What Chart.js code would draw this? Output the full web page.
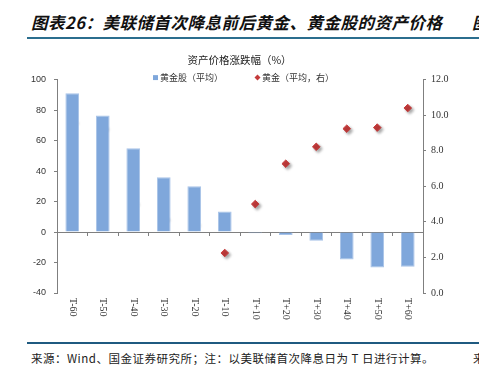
<!DOCTYPE html>
<html>
<head>
<meta charset="utf-8">
<script src="https://cdn.jsdelivr.net/npm/chart.js@4/dist/chart.umd.min.js"></script>
<style>
  html, body { margin: 0; padding: 0; background: #fff; }
  body { width: 479px; height: 371px; position: relative; overflow: hidden; font-family: "Noto Sans CJK SC", sans-serif; }
  .head { position: absolute; left: 31px; top: 10px; font-size: 16.5px; font-weight: bold; font-style: italic; color: #111; white-space: nowrap; letter-spacing: 0.5px; }
  .head-cut { position: absolute; left: 472px; top: 10px; font-size: 16.5px; font-weight: bold; font-style: italic; color: #111; }
  .rule-top { position: absolute; left: 27px; right: 0; top: 37px; height: 2px; background: #2b6e8e; }
  .rule-bot { position: absolute; left: 27px; right: 0; top: 342px; height: 2px; background: #1f5a80; }
  .foot { position: absolute; left: 31px; top: 350px; font-size: 11.5px; color: #222; white-space: nowrap; letter-spacing: 0.5px; }
  .foot-cut { position: absolute; left: 473px; top: 350px; font-size: 11.5px; color: #222; }
  #wrap { position: absolute; left: 0; top: 45px; width: 479px; height: 290px; }
</style>
</head>
<body>
<div class="head">图表26：美联储首次降息前后黄金、黄金股的资产价格</div>
<div class="head-cut">图</div>
<div class="rule-top"></div>
<div id="wrap"><canvas id="chart"></canvas></div>
<div class="rule-bot"></div>
<div class="foot">来源：Wind、国金证券研究所；注：以美联储首次降息日为 T 日进行计算。</div>
<div class="foot-cut">来</div>
<script>
// data
const categories = ['T-60', 'T-50', 'T-40', 'T-30', 'T-20', 'T-10', 'T+10', 'T+20', 'T+30', 'T+40', 'T+50', 'T+60'];
const goldStockAvg = [91, 76.5, 55, 36, 30, 13.5, -0.8, -2, -5.7, -18, -23.3, -22.8];
const goldAvg = [9.65, 9.3, 5.07, 4.2, 3.9, 2.25, 5.0, 7.27, 8.22, 9.24, 9.3, 10.4];
const leftTicks = { min: -40, max: 100, step: 20 };
const rightTicks = { min: 0, max: 12, step: 2 };

const BAR_COLOR = '#7fa7db';
const DOT_COLOR = '#c43b3b';
const AXIS_COLOR = '#7f7f7f';
const FONT_CJK = '"Noto Sans CJK SC", sans-serif';

// shadow under the gold markers
const markerShadow = {
  id: 'markerShadow',
  beforeDatasetDraw(chart, args) {
    if (args.index !== 1) return;
    const ctx = chart.ctx;
    ctx.save();
    ctx.shadowColor = 'rgba(0,0,0,0.35)';
    ctx.shadowBlur = 3;
    ctx.shadowOffsetX = 2;
    ctx.shadowOffsetY = 2;
  },
  afterDatasetDraw(chart, args) {
    if (args.index !== 1) return;
    chart.ctx.restore();
  }
};

// x labels read top to bottom, below the plot
const verticalLabels = {
  id: 'verticalLabels',
  afterDraw(chart) {
    const ctx = chart.ctx;
    const x = chart.scales.x;
    const top = chart.chartArea.bottom + 5;
    ctx.save();
    ctx.font = '10px "Liberation Serif", serif';
    ctx.fillStyle = '#333';
    ctx.textBaseline = 'middle';
    ctx.textAlign = 'left';
    categories.forEach((label, i) => {
      const px = x.getPixelForValue(i);
      ctx.save();
      ctx.translate(px, top);
      ctx.rotate(Math.PI / 2);
      ctx.fillText(label, 0, 0);
      ctx.restore();
    });
    ctx.restore();
  }
};

// legend sits on top of the plot, like the original
const overlayLegend = {
  id: 'overlayLegend',
  afterDraw(chart) {
    const ctx = chart.ctx;
    const y = chart.chartArea.top - 2;
    const items = [
      { x: 153, text: '黄金股（平均）', style: 'rect', color: BAR_COLOR },
      { x: 255, text: '黄金（平均，右）', style: 'rectRot', color: DOT_COLOR }
    ];
    ctx.save();
    ctx.font = '9px ' + FONT_CJK;
    ctx.textBaseline = 'middle';
    items.forEach(item => {
      ctx.fillStyle = item.color;
      ctx.strokeStyle = item.color;
      Chart.helpers.drawPoint(ctx, { pointStyle: item.style, radius: item.style === 'rect' ? 3.5 : 3, borderWidth: 0 }, item.x + 2.5, y);
      ctx.fillStyle = '#333';
      ctx.fillText(item.text, item.x + 7, y);
    });
    ctx.restore();
  }
};

new Chart(document.getElementById('chart'), {
  data: {
    labels: categories,
    datasets: [
      {
        type: 'bar',
        label: '黄金股（平均）',
        data: goldStockAvg,
        backgroundColor: BAR_COLOR,
        borderColor: '#a8c3e8',
        borderWidth: 1,
        barPercentage: 0.45,
        categoryPercentage: 1,
        yAxisID: 'y'
      },
      {
        type: 'line',
        label: '黄金（平均，右）',
        data: goldAvg,
        showLine: false,
        pointStyle: 'rectRot',
        pointRadius: 3.8,
        pointBorderWidth: 1,
        pointBackgroundColor: DOT_COLOR,
        pointBorderColor: DOT_COLOR,
        yAxisID: 'y1'
      }
    ]
  },
  options: {
    responsive: true,
    maintainAspectRatio: false,
    animation: false,
    layout: { padding: { left: 0, right: 0, top: 0, bottom: 42 } },
    plugins: {
      legend: { display: false },
      tooltip: { enabled: false },
      title: {
        display: true,
        text: '资产价格涨跌幅（%）',
        color: '#222',
        font: { family: FONT_CJK, size: 10.5, weight: 'normal' },
        padding: { top: 9, bottom: 13 }
      }
    },
    scales: {
      x: {
        type: 'category',
        position: { y: 0 },
        offset: true,
        grid: { display: true, drawOnChartArea: false, drawTicks: true, tickLength: 3, color: AXIS_COLOR, offset: true },
        border: { display: true, color: AXIS_COLOR, width: 1 },
        ticks: { display: false }
      },
      y: {
        position: 'left',
        min: leftTicks.min,
        max: leftTicks.max,
        ticks: {
          stepSize: leftTicks.step,
          color: '#333',
          padding: 8,
          font: { family: '"Liberation Sans", sans-serif', size: 9 }
        },
        grid: { drawOnChartArea: false, drawTicks: true, tickLength: 3, color: AXIS_COLOR },
        border: { display: true, color: AXIS_COLOR, width: 1 },
        afterFit(scale) { scale.width = 57; }
      },
      y1: {
        position: 'right',
        min: rightTicks.min,
        max: rightTicks.max,
        ticks: {
          stepSize: rightTicks.step,
          color: '#333',
          padding: 5,
          font: { family: '"Liberation Serif", serif', size: 10 },
          callback: v => v.toFixed(1)
        },
        grid: { drawOnChartArea: false, drawTicks: true, tickLength: 3, color: AXIS_COLOR },
        border: { display: true, color: AXIS_COLOR, width: 1 },
        afterFit(scale) { scale.width = 56; }
      }
    }
  },
  plugins: [markerShadow, verticalLabels, overlayLegend]
});
</script>
</body>
</html>
